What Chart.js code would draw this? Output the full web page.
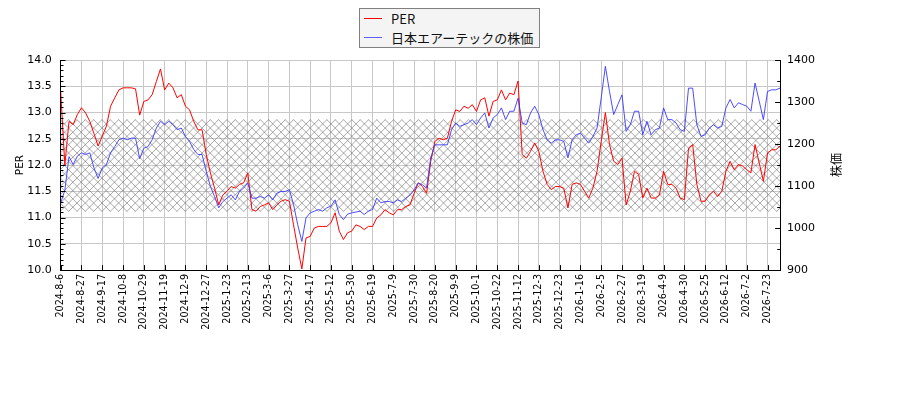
<!DOCTYPE html>
<html><head><meta charset="utf-8">
<script src="https://cdn.jsdelivr.net/npm/chart.js@4.4.0/dist/chart.umd.min.js"></script>
<style>
html,body{margin:0;padding:0;background:#fff;}
#wrap{position:relative;width:900px;height:400px;}
#legend{position:absolute;left:359px;top:8px;width:179px;height:38px;border:1px solid #808080;background:#f4f4f4;font-family:"Noto Sans CJK JP","DejaVu Sans",sans-serif;font-size:13px;color:#111;}
.item{position:absolute;left:0;width:100%;height:19px;}
.sw{position:absolute;left:4px;top:9px;width:18px;height:1.4px;}
.lbl{position:absolute;left:31px;top:0;line-height:19px;white-space:nowrap;}
</style></head>
<body><div id="wrap"><canvas id="c" width="900" height="400"></canvas><div id="legend"></div></div>
<script>
const tickLabels = ["2024-8-6","2024-8-27","2024-9-17","2024-10-8","2024-10-29","2024-11-19","2024-12-9","2024-12-27","2025-1-23","2025-2-13","2025-3-6","2025-3-27","2025-4-17","2025-5-12","2025-5-30","2025-6-19","2025-7-9","2025-7-30","2025-8-20","2025-9-9","2025-10-1","2025-10-22","2025-11-12","2025-12-3","2025-12-23","2026-1-16","2026-2-5","2026-2-27","2026-3-19","2026-4-9","2026-4-30","2026-5-25","2026-6-12","2026-7-2","2026-7-23"];
const seriesNames = ["PER","日本エアーテックの株価"];
const per = [13.4,12.0,12.83,12.77,12.96,13.09,12.99,12.83,12.6,12.36,
12.55,12.74,13.12,13.28,13.43,13.47,13.47,13.47,13.45,12.95,
13.21,13.24,13.34,13.59,13.83,13.43,13.56,13.47,13.28,13.34,
13.12,13.05,12.83,12.67,12.67,12.2,11.85,11.56,11.24,11.43,
11.5,11.59,11.56,11.63,11.66,11.85,11.15,11.12,11.21,11.24,
11.28,11.15,11.24,11.31,11.34,11.31,10.86,10.42,10.02,10.61,
10.64,10.8,10.83,10.83,10.83,10.9,11.09,10.74,10.58,10.71,
10.74,10.86,10.83,10.77,10.83,10.83,10.99,11.05,11.15,11.09,
11.05,11.15,11.15,11.21,11.24,11.46,11.66,11.59,11.46,12.07,
12.45,12.51,12.48,12.51,12.83,13.05,13.02,13.12,13.08,13.15,
13.02,13.24,13.28,12.93,13.21,13.24,13.43,13.24,13.37,13.34,
13.6,12.2,12.13,12.26,12.42,12.26,11.88,11.63,11.53,11.59,
11.59,11.56,11.18,11.63,11.66,11.63,11.5,11.37,11.56,11.88,
12.45,13.0,12.39,12.07,12.01,12.13,11.24,11.5,11.88,11.82,
11.37,11.56,11.37,11.37,11.43,11.88,11.63,11.63,11.56,11.37,
11.34,12.32,12.39,11.63,11.31,11.31,11.43,11.5,11.4,11.5,
11.88,12.07,11.91,12.01,11.98,11.91,11.85,12.39,12.04,11.69,
12.23,12.29,12.29,12.36];
const price = [1060,1090,1170,1151,1171,1179,1175,1179,1143,1118,
1143,1151,1179,1194,1210,1214,1210,1214,1214,1165,
1190,1194,1210,1238,1254,1246,1254,1246,1234,1238,
1218,1206,1187,1175,1175,1135,1099,1075,1048,1063,
1071,1079,1067,1087,1095,1107,1071,1071,1075,1071,
1079,1067,1083,1087,1087,1091,1056,1008,968,1024,
1036,1040,1044,1040,1048,1052,1067,1032,1020,1033,
1036,1038,1040,1032,1040,1044,1071,1060,1063,1063,
1060,1067,1063,1071,1079,1091,1107,1103,1095,1167,
1198,1198,1198,1198,1234,1250,1242,1246,1250,1258,
1246,1262,1274,1238,1262,1270,1286,1258,1278,1278,
1309,1250,1246,1274,1290,1270,1234,1210,1202,1210,
1210,1206,1167,1210,1222,1226,1214,1202,1218,1238,
1310,1385,1325,1270,1294,1317,1230,1246,1278,1278,
1222,1254,1222,1234,1238,1286,1258,1258,1250,1234,
1230,1333,1333,1246,1218,1222,1238,1246,1238,1242,
1286,1306,1286,1298,1294,1290,1278,1345,1302,1258,
1325,1329,1329,1333];
const bandLow = 11.11;
const bandHigh = 12.87;
const tickStep = 5;

const RED = '#ff0000', BLUE = '#3838ff';
const gridColor = '#c8c8c8';
const isMult = (v, m) => Math.abs(v / m - Math.round(v / m)) < 1e-6;

// legend (HTML)
const lg = document.getElementById('legend');
[[seriesNames[0], RED, 0], [seriesNames[1], BLUE, 19]].forEach(([t, c, top]) => {
  const it = document.createElement('div'); it.className = 'item'; it.style.top = top + 'px';
  const sw = document.createElement('div'); sw.className = 'sw'; sw.style.background = c;
  if (c === BLUE) sw.style.opacity = '0.8';
  const lb = document.createElement('div'); lb.className = 'lbl'; lb.textContent = t;
  it.appendChild(sw); it.appendChild(lb); lg.appendChild(it);
});

const hatchPlugin = {
  id: 'hatch',
  beforeDraw(chart) {
    const ctx = chart.ctx; ctx.save(); ctx.fillStyle = '#fff';
    ctx.fillRect(0, 0, chart.width, chart.height); ctx.restore();
  },
  beforeDatasetsDraw(chart) {
    const ctx = chart.ctx, y = chart.scales.y, a = chart.chartArea;
    const t = y.getPixelForValue(bandHigh), b = y.getPixelForValue(bandLow);
    const h = b - t, s = 8.33;
    ctx.save();
    ctx.beginPath(); ctx.rect(a.left, t, a.right - a.left, h); ctx.clip();
    ctx.strokeStyle = 'rgba(110,110,110,0.75)'; ctx.lineWidth = 0.8;
    ctx.beginPath();
    for (let c = -h - s; c < a.right - a.left + s; c += s) {
      ctx.moveTo(a.left + c, b); ctx.lineTo(a.left + c + h, t);
      ctx.moveTo(a.left + c, t); ctx.lineTo(a.left + c + h, b);
    }
    ctx.stroke(); ctx.restore();
  },
  afterDraw(chart) {
    const ctx = chart.ctx, a = chart.chartArea;
    const yL = chart.scales.y, yR = chart.scales.y2, x = chart.scales.x;
    ctx.save(); ctx.strokeStyle = '#000'; ctx.lineWidth = 1; ctx.beginPath();
    yL.ticks.forEach(tk => {
      const p = Math.round(yL.getPixelForValue(tk.value)) + 0.5;
      const L = isMult(tk.value, 0.5) ? 4.9 : 2.8;
      ctx.moveTo(a.left, p); ctx.lineTo(a.left + L, p);
    });
    yR.ticks.forEach(tk => {
      const p = Math.round(yR.getPixelForValue(tk.value)) + 0.5;
      const L = isMult(tk.value, 100) ? 4.9 : 2.8;
      ctx.moveTo(a.right, p); ctx.lineTo(a.right - L, p);
    });
    x.ticks.forEach(tk => {
      const p = Math.round(x.getPixelForValue(tk.value)) + 0.5;
      ctx.moveTo(p, a.bottom); ctx.lineTo(p, a.bottom - 4.9);
    });
    ctx.stroke();
    // right axis title
    ctx.fillStyle = '#000';
    ctx.font = '12px "Noto Sans CJK JP"';
    ctx.textAlign = 'center'; ctx.textBaseline = 'middle';
    ctx.translate(836, (a.top + a.bottom) / 2); ctx.rotate(-Math.PI / 2);
    ctx.fillText('株価', 0, 0);
    ctx.restore();
  }
};

new Chart(document.getElementById('c'), {
  type: 'line',
  data: {
    datasets: [
      { label: seriesNames[0], data: per.map((v, i) => ({ x: i, y: v })), yAxisID: 'y',
        borderColor: RED, borderWidth: 1, pointRadius: 0, tension: 0, order: 1 },
      { label: seriesNames[1], data: price.map((v, i) => ({ x: i, y: v })), yAxisID: 'y2',
        borderColor: BLUE, borderWidth: 0.9, pointRadius: 0, tension: 0, order: 0 }
    ]
  },
  options: {
    responsive: false, animation: false, devicePixelRatio: 1,
    layout: { padding: { top: 60, left: 0, right: 0, bottom: 0 } },
    plugins: { legend: { display: false }, tooltip: { enabled: false } },
    scales: {
      x: {
        type: 'linear', min: 0, max: per.length - 1,
        afterBuildTicks: s => { s.ticks = tickLabels.map((_, k) => ({ value: k * tickStep })); },
        afterFit: s => { s.height = 130; },
        ticks: { autoSkip: false, minRotation: 90, maxRotation: 90, padding: 4, color: '#000',
          font: { family: 'DejaVu Sans', size: 9.6 },
          callback: v => tickLabels[Math.round(v / tickStep)] },
        grid: { color: gridColor, drawTicks: false },
        border: { color: '#000' }
      },
      y: {
        position: 'left', min: 10, max: 14,
        afterBuildTicks: s => { const t = []; for (let k = 0; k <= 40; k++) t.push({ value: (100 + k) / 10 }); s.ticks = t; },
        afterFit: s => { s.width = 60.7; },
        ticks: { autoSkip: false, padding: 9, color: '#000', font: { family: 'DejaVu Sans', size: 11 },
          callback: v => isMult(v, 0.5) ? v.toFixed(1) : '' },
        grid: { color: c => (c.tick && isMult(c.tick.value, 0.5)) ? gridColor : 'rgba(0,0,0,0)', drawTicks: false },
        border: { color: '#000' },
        title: { display: true, text: 'PER', color: '#000', font: { family: 'DejaVu Sans', size: 10.5 }, padding: { top: 13.5, bottom: 0 } }
      },
      y2: {
        position: 'right', min: 900, max: 1400,
        afterBuildTicks: s => { const t = []; for (let v = 900; v <= 1400; v += 50) t.push({ value: v }); s.ticks = t; },
        afterFit: s => { s.width = 120; },
        ticks: { autoSkip: false, padding: 7, color: '#000', font: { family: 'DejaVu Sans', size: 11 },
          callback: v => isMult(v, 100) ? String(v) : '' },
        grid: { display: false, drawTicks: false },
        border: { color: '#000' }
      }
    }
  },
  plugins: [hatchPlugin]
});
</script>
</body></html>
